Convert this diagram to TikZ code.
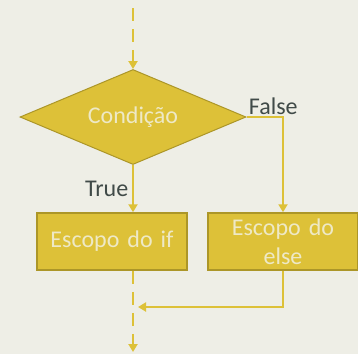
\documentclass[tikz,border=0pt]{standalone}
\usepackage{fontspec}
\setmainfont{Carlito}
\usetikzlibrary{shapes,positioning,arrows.meta}
\definecolor{bgcol}{RGB}{238,238,230}
\definecolor{gold}{RGB}{221,193,56}
\definecolor{golddark}{RGB}{172,150,40}
\definecolor{boxtext}{RGB}{238,233,198}
\definecolor{labeltext}{RGB}{64,74,72}

\begin{document}
\begin{tikzpicture}[x=1pt,y=-1pt,node distance=100pt,on grid,auto,
  >={Triangle[length=8pt,width=9pt]},
  every node/.style={font=\fontsize{24}{29}\selectfont},
  decision/.style={diamond,aspect=2.4,fill=gold,draw=golddark,line width=1pt,
    minimum width=226pt,minimum height=95pt,inner sep=0pt,text=boxtext},
  block/.style={rectangle,fill=gold,draw=golddark,line width=1.5pt,
    minimum width=150pt,minimum height=57pt,inner sep=0pt,text=boxtext,
    align=center,text width=140pt},
  flow/.style={draw=gold,line width=2.8pt},
  cont/.style={flow,dash pattern=on 13pt off 8pt},
  lbl/.style={text=labeltext}]

   \useasboundingbox (0,0) rectangle (358,354);
   \fill[bgcol] (0,0) rectangle (358,354);

   \node[decision] (cond) at (133,117) {Condição};
   \node[block] (ifbox) [below left=124.5pt and 21pt of cond] {Escopo do if};
   \node[block] (elsebox) [right=171pt of ifbox] {Escopo do\\else};

   \coordinate (start) at (133,8);
   \coordinate (stop) at (133,352);
   \coordinate (join) at (138,307);

   \draw[cont,->] (start) -- (cond.north);
   \draw[flow,->] (cond.south) -- node[lbl,swap] {True} (cond.south |- ifbox.north);
   \draw[flow,->] (cond.east) -| node[lbl,pos=0,above right,inner sep=1pt] {False} (elsebox.north);
   \draw[cont,->] (ifbox.south -| stop) -- (stop);
   \draw[flow,->] (elsebox.south) |- (join);
\end{tikzpicture}
\end{document}
